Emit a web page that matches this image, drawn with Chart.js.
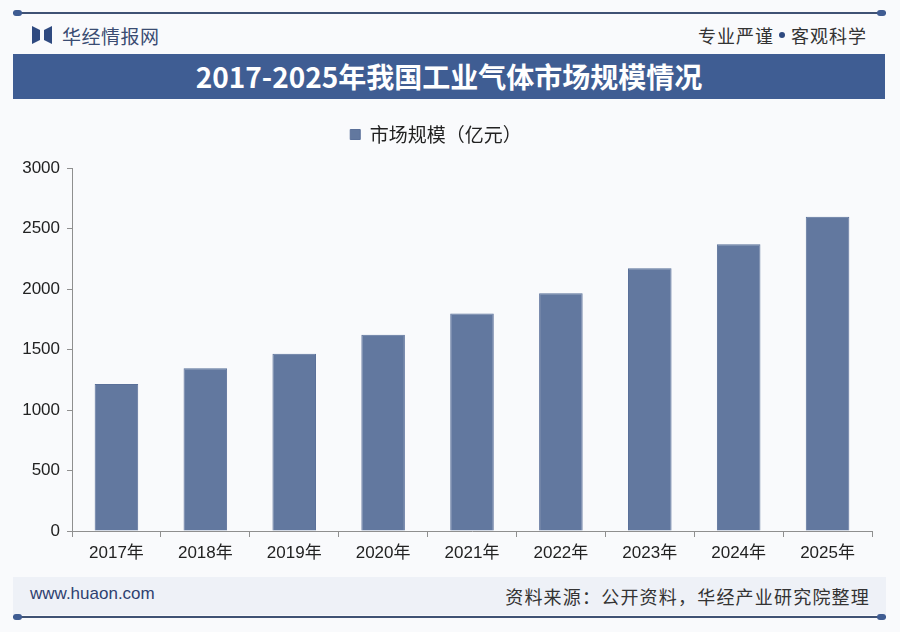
<!DOCTYPE html>
<html lang="zh-CN">
<head>
<meta charset="utf-8">
<title>2017-2025年我国工业气体市场规模情况</title>
<script src="https://cdn.jsdelivr.net/npm/chart.js@4.4.1/dist/chart.umd.min.js"></script>
<style>
  html, body { margin: 0; padding: 0; }
  body {
    width: 900px; height: 632px; position: relative; overflow: hidden;
    background: #f9fafc;
    font-family: "Noto Sans CJK SC", "Liberation Sans", sans-serif;
  }
  .rule { position: absolute; left: 13px; width: 873px; height: 2px; background: #3f5274; }
  .rule::before, .rule::after {
    content: ''; position: absolute; top: -2px; width: 9px; height: 6px;
    background: #3f5c92; border-radius: 3px;
  }
  .rule::before { left: 0; }
  .rule::after { right: 0; }
  #topRule { top: 12px; }
  #bottomRule { top: 616px; }
  #brand { position: absolute; left: 32px; top: 22px; height: 26px; display: flex; align-items: center; }
  #brand .logo { width: 20px; height: 18px; margin-right: 10px; }
  #brand span { font-size: 19px; color: #3a4c72; letter-spacing: 0.5px; }
  #motto { position: absolute; right: 33px; top: 22px; font-size: 18px; color: #333; letter-spacing: 1px; line-height: 26px; display: flex; align-items: center; }
  #motto .dot { display: inline-block; width: 6px; height: 6px; border-radius: 3px; background: #2f4a80; margin: 0 6px 0 5px; }
  #banner {
    position: absolute; left: 13px; top: 54px; width: 872px; height: 45px;
    background: #3f5d93; color: #fff; text-align: center;
    font-size: 28px; font-weight: bold; line-height: 45px;
  }
  #footer { position: absolute; left: 13px; top: 577px; width: 873px; height: 38px; background: #eef1f7; }
  #site { position: absolute; left: 30px; top: 584px; font-family: "Liberation Sans", sans-serif; font-size: 17px; color: #2e4170; }
  #source { position: absolute; right: 30px; top: 583px; font-size: 18px; color: #333; letter-spacing: 1.2px; }
  #chartBox { position: absolute; left: 0; top: 110px; width: 900px; height: 470px; }
</style>
</head>
<body>
<div class="rule" id="topRule"></div>
<div id="brand">
  <svg class="logo" viewBox="0 0 20 18"><path d="M0 0 L8 4 L8 14 L0 18 Z M20 0 L12 4 L12 14 L20 18 Z" fill="#2f4a80"/></svg>
  <span>华经情报网</span>
</div>
<div id="motto"><span>专业严谨</span><span class="dot"></span><span>客观科学</span></div>
<div id="banner">2017-2025年我国工业气体市场规模情况</div>
<div id="footer"></div>
<div id="site">www.huaon.com</div>
<div id="source">资料来源：公开资料，华经产业研究院整理</div>
<div class="rule" id="bottomRule"></div>
<div id="chartBox"><canvas id="chart" width="900" height="470"></canvas></div>

<script>
const years = ['2017年', '2018年', '2019年', '2020年', '2021年', '2022年', '2023年', '2024年', '2025年'];
const marketSize = [1215, 1345, 1464, 1621, 1797, 1965, 2171, 2369, 2598];
const seriesName = '市场规模（亿元）';

const tickFont = { family: '"Liberation Sans", "Noto Sans CJK SC", sans-serif', size: 17 };

// push the plot area down below the legend
const legendGap = {
  id: 'legendGap',
  beforeInit(chart) {
    const fit = chart.legend.fit;
    chart.legend.fit = function () {
      fit.bind(chart.legend)();
      this.height += 14;
    };
  }
};

new Chart(document.getElementById('chart'), {
  type: 'bar',
  data: {
    labels: years,
    datasets: [{
      label: seriesName,
      data: marketSize,
      backgroundColor: '#62789f',
      borderColor: '#5a7099',
      borderWidth: 1,
      categoryPercentage: 1,
      barPercentage: 0.49
    }]
  },
  options: {
    responsive: false,
    animation: false,
    layout: { padding: { top: 5, right: 28, bottom: 0, left: 0 } },
    plugins: {
      legend: {
        position: 'top',
        labels: {
          boxWidth: 10,
          boxHeight: 10,
          padding: 10,
          color: '#222',
          font: { family: '"Noto Sans CJK SC", sans-serif', size: 19 }
        }
      },
      tooltip: { enabled: false }
    },
    scales: {
      x: {
        afterFit(scale) { scale.height = 49; },
        grid: { offset: true, drawOnChartArea: false, tickLength: 6, color: '#8f8f8f' },
        border: { color: '#8f8f8f', width: 1 },
        ticks: { color: '#222', font: tickFont, padding: 6, maxRotation: 0 }
      },
      y: {
        min: 0,
        max: 3000,
        afterFit(scale) { scale.width = 72; },
        grid: { drawOnChartArea: false, tickLength: 5, color: '#8f8f8f' },
        border: { color: '#8f8f8f', width: 1 },
        ticks: { stepSize: 500, color: '#222', font: tickFont, padding: 7, callback: v => String(v) }
      }
    }
  },
  plugins: [legendGap]
});
</script>
</body>
</html>
